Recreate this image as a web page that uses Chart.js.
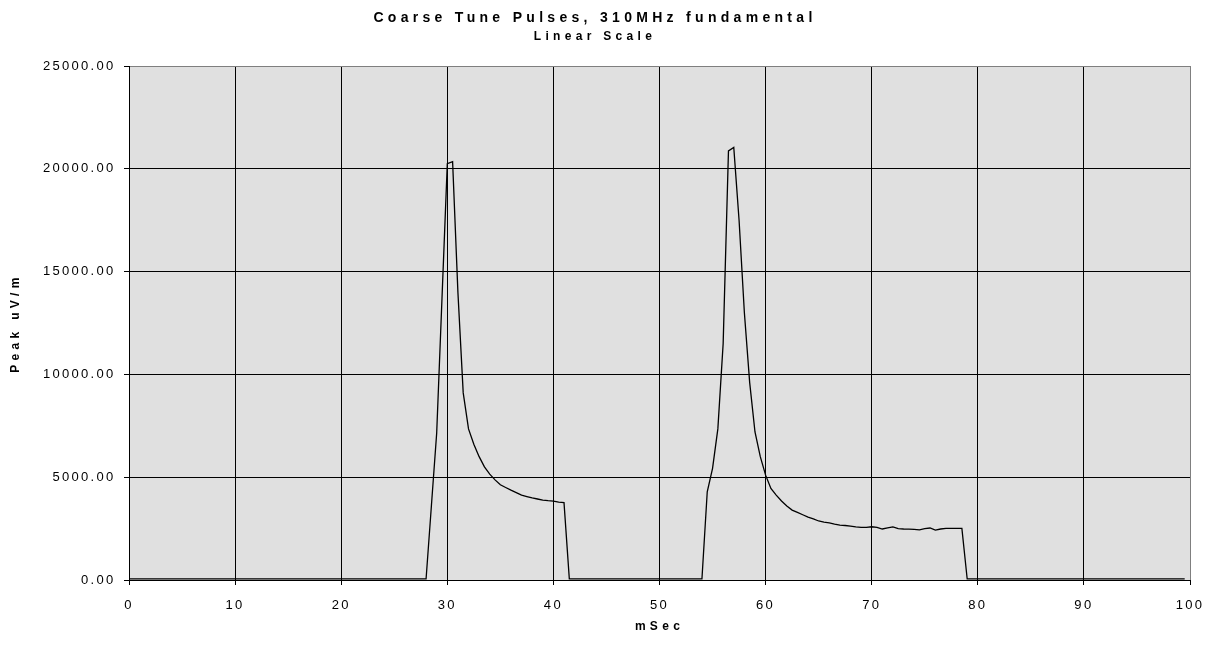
<!DOCTYPE html>
<html>
<head>
<meta charset="utf-8">
<script src="https://cdn.jsdelivr.net/npm/chart.js@4.4.1/dist/chart.umd.min.js"></script>
<style>
  html, body { margin: 0; padding: 0; background: #ffffff; }
  #wrap { width: 1217px; height: 646px; }
</style>
</head>
<body>
<div id="wrap"><canvas id="c" width="1217" height="646"></canvas></div>
<script>
// ---- Data ----
const titleText = 'Coarse Tune Pulses, 310MHz fundamental';
const subtitleText = 'Linear Scale';
const xAxisTitle = 'mSec';
const yAxisTitle = 'Peak uV/m';

const timeMs = [
  0, 28.0, 28.5, 29.0, 29.5, 30.0, 30.5, 31.0, 31.5, 32.0, 32.5, 33.0, 33.5, 34.0, 34.5,
  35.0, 35.5, 36.0, 36.5, 37.0, 37.5, 38.0, 38.5, 39.0, 39.5, 40.0, 40.5, 41.0, 41.5,
  54.0, 54.5, 55.0, 55.5, 56.0, 56.5, 57.0, 57.5, 58.0, 58.5, 59.0, 59.5, 60.0, 60.5,
  61.0, 61.5, 62.0, 62.5, 63.0, 63.5, 64.0, 64.5, 65.0, 65.5, 66.0, 66.5, 67.0, 67.5,
  68.0, 68.5, 69.0, 69.5, 70.0, 70.5, 71.0, 71.5, 72.0, 72.5, 73.0, 73.5, 74.0, 74.5,
  75.0, 75.5, 76.0, 76.5, 77.0, 77.5, 78.0, 78.5, 79.0, 99.5
];
const peakUvm = [
  50, 50, 3600, 7150, 13700, 20250, 20350, 14000, 9100, 7350, 6600, 6000, 5500, 5150, 4870,
  4630, 4500, 4370, 4250, 4130, 4060, 3990, 3940, 3890, 3860, 3840, 3790, 3760, 50,
  50, 4290, 5430, 7350, 11500, 20870, 21040, 17500, 13000, 9600, 7200, 6000, 5100, 4450,
  4130, 3840, 3600, 3400, 3290, 3175, 3060, 2970, 2870, 2820, 2780, 2720, 2670, 2650,
  2625, 2580, 2560, 2560, 2590, 2560, 2480, 2530, 2580, 2500, 2480, 2470, 2460, 2440,
  2500, 2530, 2430, 2480, 2510, 2510, 2510, 2510, 50, 50
];
const xMin = 0, xMax = 100, xStep = 10;
const yMin = 0, yMax = 25000, yStep = 5000;

// ---- Rendering ----
const FONT = "'Liberation Sans', Arial, Helvetica, sans-serif";

const plotBg = {
  id: 'plotBg',
  beforeDraw(chart) {
    const {ctx, chartArea: a} = chart;
    ctx.save();
    ctx.fillStyle = '#e0e0e0';
    ctx.fillRect(a.left, a.top, a.right - a.left, a.bottom - a.top);
    ctx.restore();
  }
};

function withSpacing(fn, obj, px) {
  return function(...args) {
    const c = obj.ctx;
    c.save();
    try { c.letterSpacing = px; } catch (e) {}
    const r = fn.apply(obj, args);
    c.restore();
    return r;
  };
}

const spacing = {
  id: 'spacing',
  beforeDraw(chart) {
    chart.boxes.forEach(b => {
      if (b.__spaced) return;
      b.__spaced = true;
      if (typeof b.drawLabels === 'function') {
        b.drawLabels = withSpacing(b.drawLabels, b, '2.3px');
        b.drawTitle = withSpacing(b.drawTitle, b, '4.3px');
      } else {
        b.draw = withSpacing(b.draw, b, '4.3px');
      }
    });
  }
};

const edgeColor = (last) => (ctx) => (ctx.tick && ctx.tick.value === last) ? '#7f7f7f' : '#000000';

new Chart(document.getElementById('c'), {
  type: 'scatter',
  data: {
    datasets: [{
      data: timeMs.map((x, i) => ({x: x, y: peakUvm[i]})),
      showLine: true,
      borderColor: '#000000',
      borderWidth: 1.3,
      pointRadius: 0,
      pointHoverRadius: 0,
      tension: 0,
      fill: false
    }]
  },
  options: {
    responsive: false,
    animation: false,
    devicePixelRatio: 1,
    layout: { padding: { left: 0, right: 27, top: 0, bottom: 0 } },
    plugins: {
      legend: { display: false },
      tooltip: { enabled: false },
      title: {
        display: true, text: titleText, color: '#000',
        font: { family: FONT, size: 14, weight: 'bold' },
        padding: { top: 9.3, bottom: 1 }
      },
      subtitle: {
        display: true, text: subtitleText, color: '#000',
        font: { family: FONT, size: 12, weight: 'bold' },
        padding: { top: 1.9, bottom: 22.6 }
      }
    },
    scales: {
      x: {
        type: 'linear', min: xMin, max: xMax,
        ticks: { stepSize: xStep, color: '#000', font: { family: FONT, size: 13 }, padding: 12.2, maxRotation: 0, autoSkip: false },
        grid: { color: edgeColor(xMax), lineWidth: 1, tickLength: 5, tickColor: '#000', drawTicks: true },
        border: { display: true, color: '#000', width: 1 },
        title: { display: true, text: xAxisTitle, color: '#000', font: { family: FONT, size: 12, weight: 'bold' }, padding: { top: 0, bottom: 11.8 } },
        afterFit(s) { s.height = 66; }
      },
      y: {
        type: 'linear', min: yMin, max: yMax,
        ticks: { stepSize: yStep, color: '#000', font: { family: FONT, size: 13 }, padding: 8.5, callback: v => Number(v).toFixed(2) },
        grid: { color: edgeColor(yMax), lineWidth: 1, tickLength: 5, tickColor: '#000', drawTicks: true },
        border: { display: true, color: '#000', width: 1 },
        title: { display: true, text: yAxisTitle, color: '#000', font: { family: FONT, size: 12, weight: 'bold' }, padding: { top: 8.8, bottom: 0 } },
        afterFit(s) { s.width = 129; }
      }
    }
  },
  plugins: [plotBg, spacing]
});
</script>
</body>
</html>
